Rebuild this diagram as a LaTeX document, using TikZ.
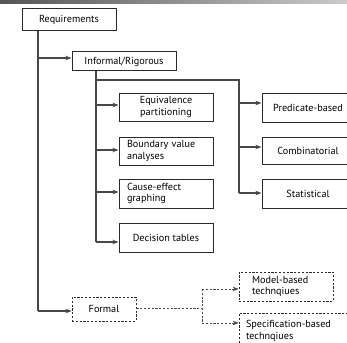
\documentclass[tikz,border=0pt]{standalone}
\usepackage{fontspec}
\setmainfont{PT Sans}
\usetikzlibrary{arrows.meta}
\definecolor{lc}{HTML}{484848}
\definecolor{bc}{HTML}{2A2A2A}
\definecolor{gl}{HTML}{555555}
\definecolor{gr}{HTML}{CACACA}
\tikzset{
  box/.style={draw=bc, line width=1pt, inner sep=0pt, font=\fontsize{10.2}{11.5}\selectfont},
  dbox/.style={box, dash pattern=on 2.2pt off 1.6pt, line width=0.8pt},
  conn/.style={draw=lc, line width=1.1pt},
  arr/.style={conn, -{Stealth[length=6pt,width=4.5pt]}},
  dconn/.style={conn, dash pattern=on 2.2pt off 1.6pt, line width=0.8pt},
  darr/.style={arr, dash pattern=on 2.2pt off 1.6pt, line width=0.8pt},
}
\begin{document}
\begin{tikzpicture}[x=1pt,y=-1pt]
\useasboundingbox (0,0) rectangle (347,342);
\clip (0,0) rectangle (347,342);
\shade[left color=gl, right color=gr] (0,0) rectangle (347,4);
% nodes
\node[box, minimum width=94, minimum height=22] (req) at (69,20) {Requirements};
\node[box, minimum width=104, minimum height=19] (inf) at (124,61.5) {Informal/Rigorous};
\node[box, minimum width=94, minimum height=28, align=center] (eq) at (166,107) {Equivalence\\partitioning};
\node[box, minimum width=94, minimum height=28, text width=78, align=left] (bv) at (166,151) {Boundary value\\analyses};
\node[box, minimum width=94, minimum height=29, text width=78, align=left] (ce) at (166,193.5) {Cause-effect\\graphing};
\node[box, minimum width=94, minimum height=29] (dt) at (166,237.5) {Decision tables};
\node[box, minimum width=92, minimum height=29, text width=88, align=center] (pb) at (308,107.5) {Predicate-based};
\node[box, minimum width=92, minimum height=27, text width=88, align=center] (cb) at (308,150.5) {Combinatorial};
\node[box, minimum width=92, minimum height=29, text width=88, align=center] (st) at (308,193.5) {Statistical};
\node[dbox, minimum width=64, minimum height=24] (fo) at (104,309) {Formal};
\node[dbox, minimum width=94, minimum height=29, text width=68, align=left] (mb) at (286,286.5) {Model-based\\technqiues};
\node[dbox, minimum width=124, minimum height=36, text width=110, align=left] (sb) at (301,331) {Specification-based\\technqiues};
% junction points
\coordinate (j1) at (38,31);
\coordinate (j2) at (96,71);
\coordinate (j3) at (239,80);
\coordinate (j4) at (202,308);
% connectors
\draw[conn] (j1) -- (38,311);
\draw[arr] (38,311) -- ([yshift=-2pt]fo.west);
\draw[arr] (38,58) -- ([yshift=3.5pt]inf.west);
\draw[conn] (j2) -- (96,242);
\draw[arr] (96,105) -- ([yshift=2pt]eq.west);
\draw[arr] (96,150) -- ([yshift=1pt]bv.west);
\draw[arr] (96,192) -- ([yshift=1.5pt]ce.west);
\draw[arr] (96,242) -- ([yshift=-4.5pt]dt.west);
\draw[conn] (96,80) -| (j3) -- (239,193);
\draw[arr] (239,103) -- ([yshift=4.5pt]pb.west);
\draw[arr] (239,147) -- ([yshift=3.5pt]cb.west);
\draw[arr] (239,193) -- ([yshift=0.5pt]st.west);
\draw[dconn] ([yshift=1pt]fo.east) -- (j4);
\draw[dconn] (202,289) -- (202,323);
\draw[darr] (202,289) -- ([yshift=-2.5pt]mb.west);
\draw[darr] (202,323) -- ([yshift=8pt]sb.west);
\end{tikzpicture}
\end{document}
